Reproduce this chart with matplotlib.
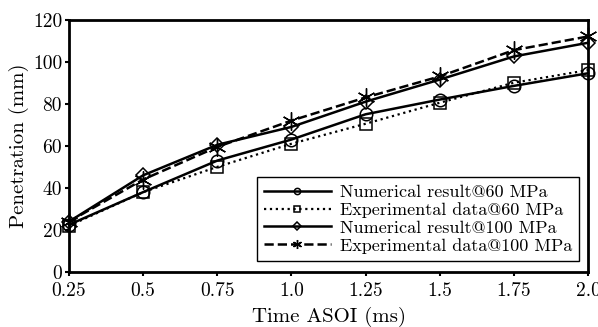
import matplotlib
matplotlib.use("Agg")
import matplotlib.pyplot as plt

plt.rcParams['font.family'] = ['cmr10', 'DejaVu Serif']
plt.rcParams['mathtext.fontset'] = 'cm'
plt.rcParams['axes.unicode_minus'] = False

time = [0.25, 0.5, 0.75, 1.0, 1.25, 1.5, 1.75, 2.0]
num60 = [22.5, 38, 53, 63, 75, 82, 88.5, 94.5]
exp60 = [22, 38, 50, 61, 70.5, 80.5, 90, 96]
num100 = [24, 46, 60.5, 69, 81, 91.5, 102.5, 109]
exp100 = [24, 44, 59.5, 72, 83, 93, 105.5, 112]
labels = ["Numerical result@60 MPa", "Experimental data@60 MPa",
          "Numerical result@100 MPa", "Experimental data@100 MPa"]
xticks = [0.25, 0.5, 0.75, 1.0, 1.25, 1.5, 1.75, 2.0]
xticklabels = ["0.25", "0.5", "0.75", "1.0", "1.25", "1.5", "1.75", "2.0"]
yticks = [0, 20, 40, 60, 80, 100, 120]

fig = plt.figure(figsize=(5.98, 3.27), dpi=100)
ax = fig.add_axes([0.1154, 0.168, 0.868, 0.772])

k = dict(color='black', markerfacecolor='none', markeredgecolor='black', clip_on=False)
ax.plot(time, num60, '-', lw=1.8, marker='o', ms=9, mew=1.1, label=labels[0], **k)
ax.plot(time, exp60, ':', lw=1.6, marker='s', ms=9, mew=1.1, label=labels[1], **k)
ax.plot(time, num100, '-', lw=1.8, marker='D', ms=7.5, mew=1.1, label=labels[2], **k)
ax.plot(time, exp100, '--', lw=1.8, marker=(6, 2, 0), ms=13, mew=1.0, label=labels[3], **k)

ax.set_xlim(0.25, 2.0)
ax.set_ylim(0, 120)
ax.set_xticks(xticks)
ax.set_xticklabels(xticklabels)
ax.set_yticks(yticks)
for s in ax.spines.values():
    s.set_linewidth(2.0)
ax.tick_params(direction='out', length=3, width=1.5, labelsize=14)
ax.tick_params(axis='x', pad=4)
ax.tick_params(axis='y', pad=2)
ax.set_xlabel("Time ASOI (ms)", fontsize=15, labelpad=5)
ax.set_ylabel("Penetration (mm)", fontsize=15, labelpad=3)

leg = ax.legend(loc='lower right', bbox_to_anchor=(0.983, 0.044), borderaxespad=0,
                fontsize=13, frameon=True, fancybox=False, edgecolor='black',
                framealpha=1, handlelength=3.7, markerscale=0.5, labelspacing=0.12,
                borderpad=0.4, handletextpad=0.5)
leg.get_frame().set_linewidth(1.0)

fig.savefig("out.png", dpi=100)
